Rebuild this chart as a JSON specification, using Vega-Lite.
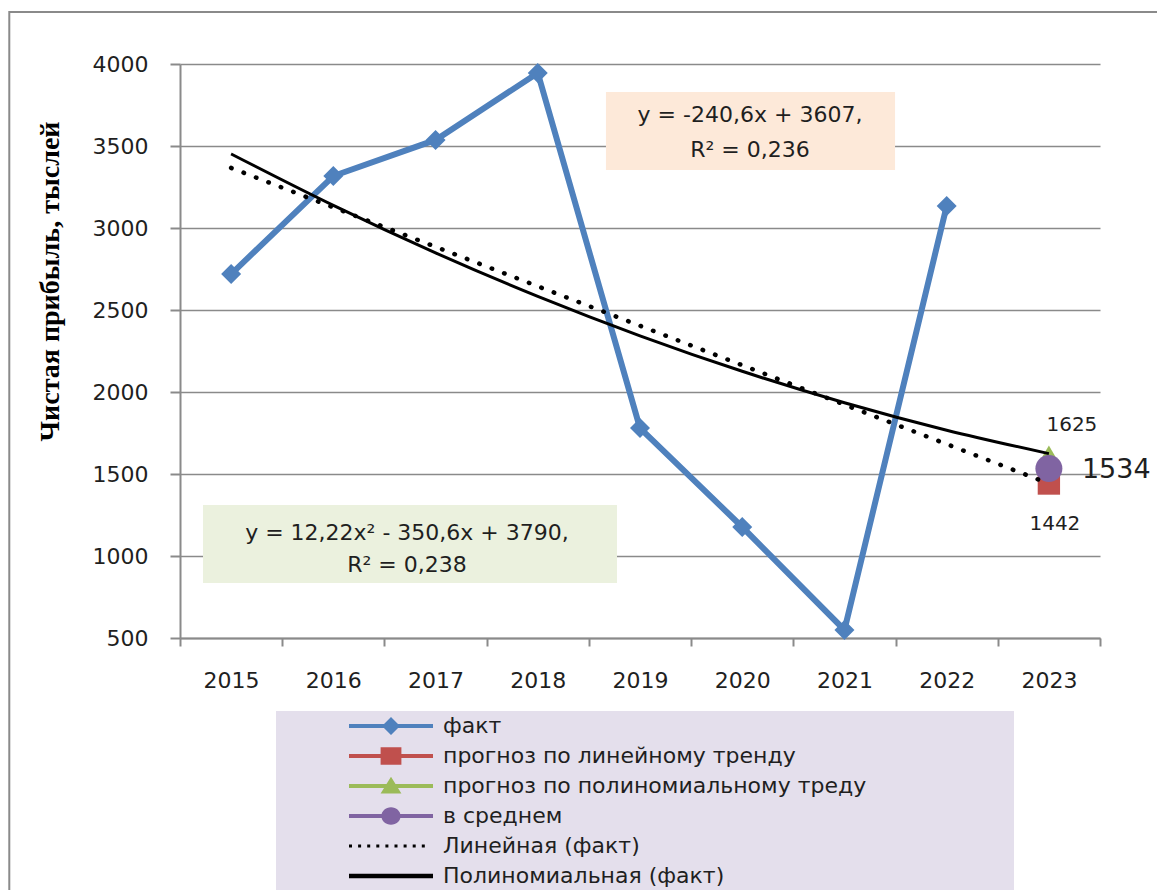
{
  "$schema": "https://vega.github.io/schema/vega-lite/v6.json",
  "width": 920,
  "height": 574,
  "autosize": {"type": "none"},
  "padding": {"left": 180, "top": 64, "right": 57, "bottom": 252},
  "background": "#ffffff",
  "config": {
    "view": {"stroke": null},
    "font": "DejaVu Sans",
    "legend": {
      "orient": "none",
      "legendX": 96,
      "legendY": 647,
      "padding": 4,
      "fillColor": "#e4dfec",
      "symbolSize": 64,
      "symbolOffset": 100,
      "labelOffset": 41,
      "symbolStrokeWidth": 0,
      "symbolOpacity": 1,
      "symbolFillColor": "black",
      "labelFont": "DejaVu Sans",
      "labelFontSize": 22,
      "labelColor": "#1f1f1f",
      "labelLimit": 0,
      "rowPadding": 8,
      "titleOrient": "right",
      "titleOpacity": 0,
      "titlePadding": 140,
      "titleFontSize": 10
    }
  },
  "layer": [
    {
      "data": {"values": [{}]},
      "mark": {"type": "rect", "fill": "transparent", "stroke": "#8a8a8a", "strokeWidth": 2, "clip": false},
      "encoding": {
        "x": {"datum": -1.17, "type": "quantitative", "scale": {"domain": [0.5, 9.5], "nice": false, "zero": false}, "axis": null},
        "x2": {"datum": 10.5},
        "y": {"datum": 4317, "type": "quantitative", "scale": {"domain": [500, 4000], "nice": false, "zero": false}},
        "y2": {"datum": -1500}
      }
    },
    {
      "data": {"values": [{}]},
      "mark": {"type": "rect", "fill": "#fde9d9"},
      "encoding": {
        "x": {"datum": 4.667, "type": "quantitative", "scale": {"domain": [0.5, 9.5], "nice": false, "zero": false}, "axis": null},
        "x2": {"datum": 7.495},
        "y": {"datum": 3829, "type": "quantitative", "scale": {"domain": [500, 4000], "nice": false, "zero": false}},
        "y2": {"datum": 3354}
      }
    },
    {
      "data": {"values": [{}]},
      "mark": {"type": "text", "text": ["y = -240,6x + 3607,", "R² = 0,236"], "font": "DejaVu Sans", "fontSize": 22, "color": "#1f1f1f", "align": "center", "baseline": "middle", "lineHeight": 35},
      "encoding": {
        "x": {"datum": 6.076, "type": "quantitative", "scale": {"domain": [0.5, 9.5], "nice": false, "zero": false}, "axis": null},
        "y": {"datum": 3689, "type": "quantitative", "scale": {"domain": [500, 4000], "nice": false, "zero": false}}
      }
    },
    {
      "data": {"values": [{}]},
      "mark": {"type": "rect", "fill": "#ebf1de"},
      "encoding": {
        "x": {"datum": 0.725, "type": "quantitative", "scale": {"domain": [0.5, 9.5], "nice": false, "zero": false}, "axis": null},
        "x2": {"datum": 4.775},
        "y": {"datum": 1311, "type": "quantitative", "scale": {"domain": [500, 4000], "nice": false, "zero": false}},
        "y2": {"datum": 835}
      }
    },
    {
      "data": {"values": [{}]},
      "mark": {"type": "text", "text": ["y = 12,22x² - 350,6x + 3790,", "R² = 0,238"], "font": "DejaVu Sans", "fontSize": 22, "color": "#1f1f1f", "align": "center", "baseline": "middle", "lineHeight": 32},
      "encoding": {
        "x": {"datum": 2.72, "type": "quantitative", "scale": {"domain": [0.5, 9.5], "nice": false, "zero": false}, "axis": null},
        "y": {"datum": 1140, "type": "quantitative", "scale": {"domain": [500, 4000], "nice": false, "zero": false}}
      }
    },
    {
      "data": {
        "values": [
          {"year": "2015", "value": 2719, "series": "факт"},
          {"year": "2016", "value": 3317, "series": "факт"},
          {"year": "2017", "value": 3537, "series": "факт"},
          {"year": "2018", "value": 3945, "series": "факт"},
          {"year": "2019", "value": 1780, "series": "факт"},
          {"year": "2020", "value": 1177, "series": "факт"},
          {"year": "2021", "value": 549, "series": "факт"},
          {"year": "2022", "value": 3134, "series": "факт"},
          {"year": "2023", "value": 1442, "series": "прогноз по линейному тренду"},
          {"year": "2023", "value": 1625, "series": "прогноз по полиномиальному треду"},
          {"year": "2023", "value": 1534, "series": "в среднем"},
          {"year": "2015", "value": 3366.4, "series": "Линейная (факт)"},
          {"year": "2016", "value": 3125.8, "series": "Линейная (факт)"},
          {"year": "2017", "value": 2885.2, "series": "Линейная (факт)"},
          {"year": "2018", "value": 2644.6, "series": "Линейная (факт)"},
          {"year": "2019", "value": 2404.0, "series": "Линейная (факт)"},
          {"year": "2020", "value": 2163.4, "series": "Линейная (факт)"},
          {"year": "2021", "value": 1922.8, "series": "Линейная (факт)"},
          {"year": "2022", "value": 1682.2, "series": "Линейная (факт)"},
          {"year": "2023", "value": 1441.6, "series": "Линейная (факт)"},
          {"year": "2015", "value": 3451.6, "series": "Полиномиальная (факт)"},
          {"year": "2016", "value": 3137.8, "series": "Полиномиальная (факт)"},
          {"year": "2017", "value": 2848.4, "series": "Полиномиальная (факт)"},
          {"year": "2018", "value": 2583.1, "series": "Полиномиальная (факт)"},
          {"year": "2019", "value": 2342.5, "series": "Полиномиальная (факт)"},
          {"year": "2020", "value": 2126.3, "series": "Полиномиальная (факт)"},
          {"year": "2021", "value": 1934.6, "series": "Полиномиальная (факт)"},
          {"year": "2022", "value": 1767.2, "series": "Полиномиальная (факт)"},
          {"year": "2023", "value": 1624.4, "series": "Полиномиальная (факт)"}
        ]
      },
      "encoding": {
        "x": {
          "field": "year",
          "type": "ordinal",
          "scale": {"type": "band", "domain": ["2015", "2016", "2017", "2018", "2019", "2020", "2021", "2022", "2023"], "paddingInner": 0, "paddingOuter": 0},
          "axis": {
            "tickBand": "extent",
            "labelAngle": 0,
            "title": null,
            "grid": false,
            "domainColor": "#8a8a8a",
            "domainWidth": 2,
            "tickColor": "#8a8a8a",
            "tickWidth": 2,
            "tickSize": 8,
            "labelFont": "DejaVu Sans",
            "labelFontSize": 22,
            "labelColor": "#1f1f1f",
            "labelPadding": 24
          }
        },
        "y": {
          "field": "value",
          "type": "quantitative",
          "scale": {"domain": [500, 4000], "nice": false, "zero": false},
          "axis": {
            "values": [500, 1000, 1500, 2000, 2500, 3000, 3500, 4000],
            "format": "d",
            "grid": true,
            "gridColor": "#8a8a8a",
            "gridWidth": 1.5,
            "domainColor": "#8a8a8a",
            "domainWidth": 2,
            "tickColor": "#8a8a8a",
            "tickWidth": 2,
            "tickSize": 10,
            "labelFont": "DejaVu Sans",
            "labelFontSize": 22,
            "labelColor": "#1f1f1f",
            "labelPadding": 22,
            "title": "Чистая прибыль,  тыслей",
            "titleFont": "Liberation Serif",
            "titleFontSize": 28,
            "titleFontWeight": "bold",
            "titleColor": "#000000",
            "titleX": -130,
            "titleY": 217,
            "titleAngle": -90,
            "titleAlign": "center",
            "titleBaseline": "middle"
          }
        }
      },
      "layer": [
        {
          "transform": [{"filter": "datum.series === 'факт'"}],
          "mark": {"type": "line", "color": "#4f81bd", "strokeWidth": 6, "strokeJoin": "miter"}
        },
        {
          "transform": [{"filter": "datum.series === 'факт'"}],
          "mark": {"type": "point", "shape": "diamond", "filled": true, "color": "#4f81bd", "opacity": 1, "size": 400}
        },
        {
          "transform": [{"filter": "datum.series === 'прогноз по линейному тренду'"}],
          "mark": {"type": "point", "shape": "square", "filled": true, "color": "#c0504d", "opacity": 1, "size": 500}
        },
        {
          "transform": [{"filter": "datum.series === 'прогноз по полиномиальному треду'"}],
          "mark": {"type": "point", "shape": "triangle-up", "filled": true, "color": "#9bbb59", "opacity": 1, "size": 350}
        },
        {
          "transform": [{"filter": "datum.series === 'в среднем'"}],
          "mark": {"type": "point", "shape": "circle", "filled": true, "color": "#8064a2", "opacity": 1, "size": 729}
        },
        {
          "transform": [{"filter": "datum.series === 'Полиномиальная (факт)'"}],
          "mark": {"type": "line", "color": "#000000", "strokeWidth": 3, "interpolate": "monotone"}
        },
        {
          "transform": [{"filter": "datum.series === 'Линейная (факт)'"}],
          "mark": {"type": "line", "color": "#000000", "strokeWidth": 4.5, "strokeCap": "round", "strokeDash": [0.5, 12.8]}
        },
        {
          "transform": [{"filter": "datum.series === 'прогноз по полиномиальному треду'"}],
          "mark": {"type": "text", "font": "DejaVu Sans", "fontSize": 20, "color": "#1f1f1f", "align": "center", "baseline": "middle", "dx": 23, "dy": -29},
          "encoding": {"text": {"field": "value", "type": "quantitative", "format": "d"}}
        },
        {
          "transform": [{"filter": "datum.series === 'прогноз по линейному тренду'"}],
          "mark": {"type": "text", "font": "DejaVu Sans", "fontSize": 20, "color": "#1f1f1f", "align": "center", "baseline": "middle", "dx": 6, "dy": 40},
          "encoding": {"text": {"field": "value", "type": "quantitative", "format": "d"}}
        },
        {
          "transform": [{"filter": "datum.series === 'в среднем'"}],
          "mark": {"type": "text", "font": "DejaVu Sans", "fontSize": 27, "color": "#1f1f1f", "align": "left", "baseline": "middle", "dx": 33, "dy": 2},
          "encoding": {"text": {"field": "value", "type": "quantitative", "format": "d"}}
        },
        {
          "transform": [{"filter": "false"}],
          "mark": {"type": "point", "filled": true, "opacity": 1},
          "encoding": {
            "color": {
              "field": "series",
              "type": "nominal",
              "scale": {
                "domain": ["факт", "прогноз по линейному тренду", "прогноз по полиномиальному треду", "в среднем", "Линейная (факт)", "Полиномиальная (факт)"],
                "range": ["#4f81bd", "#c0504d", "#9bbb59", "#8064a2", "#000000", "#000000"]
              },
              "legend": {"title": "."}
            },
            "shape": {
              "field": "series",
              "type": "nominal",
              "scale": {
                "domain": ["факт", "прогноз по линейному тренду", "прогноз по полиномиальному треду", "в среднем", "Линейная (факт)", "Полиномиальная (факт)"],
                "range": [
                  "M-10.5,-0.5H10.5V0.5H-10.5ZM0,-2.25L2.25,0L0,2.25L-2.25,0Z",
                  "M-10.5,-0.5H10.5V0.5H-10.5ZM-2.6,-2.2H2.6V2.2H-2.6Z",
                  "M-10.5,-0.5H10.5V0.5H-10.5ZM0,-2.3L2.6,1.9H-2.6Z",
                  "M-10.5,-0.5H10.5V0.5H-10.5ZM2.4,0A2.4,2.2,0,1,1,-2.4,0A2.4,2.2,0,1,1,2.4,0Z",
                  "M-10.5,-0.4h0.75v0.8h-0.75ZM-8.225,-0.4h0.75v0.8h-0.75ZM-5.95,-0.4h0.75v0.8h-0.75ZM-3.675,-0.4h0.75v0.8h-0.75ZM-1.4,-0.4h0.75v0.8h-0.75ZM0.875,-0.4h0.75v0.8h-0.75ZM3.15,-0.4h0.75v0.8h-0.75ZM5.425,-0.4h0.75v0.8h-0.75ZM7.7,-0.4h0.75v0.8h-0.75Z",
                  "M-10.5,-0.55H10.5V0.55H-10.5Z"
                ]
              },
              "legend": {"title": "."}
            }
          }
        }
      ]
    }
  ],
  "resolve": {"scale": {"x": "independent"}}
}
